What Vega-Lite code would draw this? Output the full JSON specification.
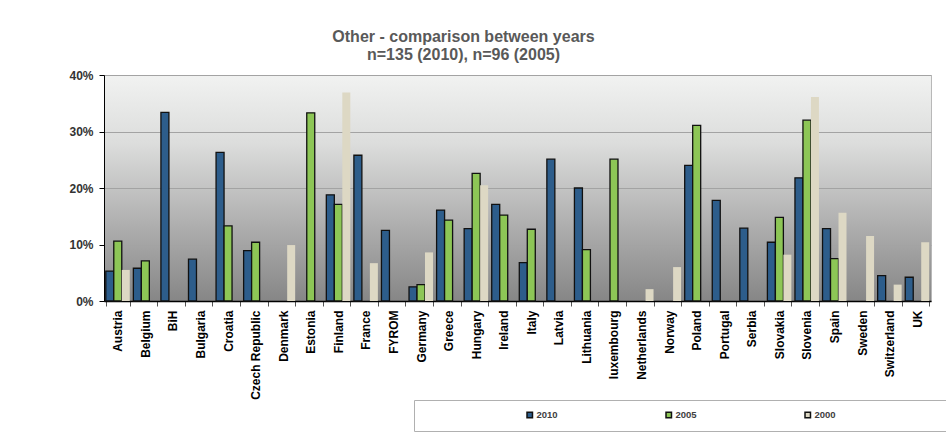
{
  "$schema": "https://vega.github.io/schema/vega-lite/v6.json",
  "autosize": "none",
  "width": 827,
  "height": 226,
  "padding": {"left": 104, "top": 75, "right": 15, "bottom": 133},
  "background": "white",
  "title": {
    "text": ["Other - comparison between years", "n=135 (2010), n=96 (2005)"],
    "fontSize": 16,
    "fontWeight": "bold",
    "color": "#595959",
    "anchor": "middle",
    "dx": -54,
    "offset": 6,
    "lineHeight": 18
  },
  "config": {
    "font": "Liberation Sans",
    "view": {
      "stroke": "#b8b8b8",
      "strokeWidth": 1,
      "fill": {
        "gradient": "linear", "x1": 0, "y1": 0, "x2": 0, "y2": 1,
        "stops": [
          {"offset": 0, "color": "#f1f2f1"},
          {"offset": 0.3, "color": "#dcdddc"},
          {"offset": 0.65, "color": "#b0b0b0"},
          {"offset": 1, "color": "#868686"}
        ]
      }
    }
  },
  "data": {
    "values": [
      {"country": "Austria", "year": "2010", "value": 5.3},
      {"country": "Austria", "year": "2005", "value": 10.6},
      {"country": "Austria", "year": "2000", "value": 5.5},
      {"country": "Belgium", "year": "2010", "value": 5.8},
      {"country": "Belgium", "year": "2005", "value": 7.1},
      {"country": "BiH", "year": "2010", "value": 33.4},
      {"country": "Bulgaria", "year": "2010", "value": 7.4},
      {"country": "Croatia", "year": "2010", "value": 26.3},
      {"country": "Croatia", "year": "2005", "value": 13.3},
      {"country": "Czech Republic", "year": "2010", "value": 8.9},
      {"country": "Czech Republic", "year": "2005", "value": 10.4},
      {"country": "Denmark", "year": "2000", "value": 9.9},
      {"country": "Estonia", "year": "2005", "value": 33.3},
      {"country": "Finland", "year": "2010", "value": 18.8},
      {"country": "Finland", "year": "2005", "value": 17.1},
      {"country": "Finland", "year": "2000", "value": 36.9},
      {"country": "France", "year": "2010", "value": 25.8},
      {"country": "France", "year": "2000", "value": 6.7},
      {"country": "FYROM", "year": "2010", "value": 12.5},
      {"country": "Germany", "year": "2010", "value": 2.5},
      {"country": "Germany", "year": "2005", "value": 2.9},
      {"country": "Germany", "year": "2000", "value": 8.6},
      {"country": "Greece", "year": "2010", "value": 16.1},
      {"country": "Greece", "year": "2005", "value": 14.3},
      {"country": "Hungary", "year": "2010", "value": 12.8},
      {"country": "Hungary", "year": "2005", "value": 22.6},
      {"country": "Hungary", "year": "2000", "value": 20.5},
      {"country": "Ireland", "year": "2010", "value": 17.1},
      {"country": "Ireland", "year": "2005", "value": 15.2},
      {"country": "Italy", "year": "2010", "value": 6.8},
      {"country": "Italy", "year": "2005", "value": 12.7},
      {"country": "Latvia", "year": "2010", "value": 25.1},
      {"country": "Lithuania", "year": "2010", "value": 20.0},
      {"country": "Lithuania", "year": "2005", "value": 9.1},
      {"country": "luxembourg", "year": "2005", "value": 25.1},
      {"country": "Netherlands", "year": "2000", "value": 2.1},
      {"country": "Norway", "year": "2000", "value": 6.0},
      {"country": "Poland", "year": "2010", "value": 24.0},
      {"country": "Poland", "year": "2005", "value": 31.1},
      {"country": "Portugal", "year": "2010", "value": 17.8},
      {"country": "Serbia", "year": "2010", "value": 12.9},
      {"country": "Slovakia", "year": "2010", "value": 10.4},
      {"country": "Slovakia", "year": "2005", "value": 14.8},
      {"country": "Slovakia", "year": "2000", "value": 8.2},
      {"country": "Slovenia", "year": "2010", "value": 21.8},
      {"country": "Slovenia", "year": "2005", "value": 32.0},
      {"country": "Slovenia", "year": "2000", "value": 36.1},
      {"country": "Spain", "year": "2010", "value": 12.8},
      {"country": "Spain", "year": "2005", "value": 7.5},
      {"country": "Spain", "year": "2000", "value": 15.6},
      {"country": "Sweden", "year": "2000", "value": 11.5},
      {"country": "Switzerland", "year": "2010", "value": 4.5},
      {"country": "Switzerland", "year": "2000", "value": 2.9},
      {"country": "UK", "year": "2010", "value": 4.2},
      {"country": "UK", "year": "2000", "value": 10.4}
    ]
  },
  "mark": {"type": "bar", "strokeWidth": 1.3},
  "encoding": {
    "x": {
      "field": "country",
      "type": "nominal",
      "scale": {
        "domain": ["Austria", "Belgium", "BiH", "Bulgaria", "Croatia", "Czech Republic", "Denmark", "Estonia", "Finland", "France", "FYROM", "Germany", "Greece", "Hungary", "Ireland", "Italy", "Latvia", "Lithuania", "luxembourg", "Netherlands", "Norway", "Poland", "Portugal", "Serbia", "Slovakia", "Slovenia", "Spain", "Sweden", "Switzerland", "UK"],
        "paddingInner": 0.13,
        "paddingOuter": 0.065
      },
      "axis": {
        "title": null,
        "labelAngle": -90,
        "labelFontSize": 12,
        "labelFontWeight": "bold",
        "labelColor": "#000000",
        "labelPadding": 4,
        "tickBand": "extent",
        "tickSize": 5,
        "tickColor": "#555555",
        "domainColor": "#000000",
        "domainWidth": 1.5
      }
    },
    "xOffset": {
      "field": "year",
      "type": "nominal",
      "scale": {"domain": ["2010", "2005", "2000"], "paddingInner": 0, "paddingOuter": 0}
    },
    "y": {
      "field": "value",
      "type": "quantitative",
      "scale": {"domain": [0, 40]},
      "axis": {
        "title": null,
        "values": [0, 10, 20, 30, 40],
        "labelExpr": "datum.value + '%'",
        "labelFontSize": 12,
        "labelFontWeight": "bold",
        "labelColor": "#333333",
        "labelPadding": 6,
        "tickSize": 5,
        "tickColor": "#000000",
        "domainColor": "#000000",
        "grid": true,
        "gridColor": "#a3a3a3",
        "gridWidth": 1
      }
    },
    "color": {
      "field": "year",
      "type": "nominal",
      "scale": {"domain": ["2010", "2005", "2000"], "range": ["#2d5d8b", "#8dc656", "#ddd8c4"]},
      "legend": {
        "orient": "none",
        "legendX": 310,
        "legendY": 325,
        "direction": "horizontal",
        "title": "\u00a0",
        "titleOrient": "left",
        "titlePadding": 101,
        "titleFontSize": 9,
        "padding": 10,
        "strokeColor": "#b0b0b0",
        "fillColor": "white",
        "symbolType": "square",
        "symbolSize": 30,
        "symbolStrokeWidth": 1.5,
        "labelFontSize": 9.5,
        "labelFontWeight": "bold",
        "labelColor": "#404040",
        "labelOffset": 2,
        "columnPadding": 105,
        "labelExpr": "datum.label == '2000' ? '2000\u2800\u2800\u2800\u2800\u2800\u2800\u2800\u2800\u2800\u2800\u2800\u2800\u2800\u2800\u2800' : datum.label",
        "labelLimit": 300,
        "encode": {
          "symbols": {
            "update": {
              "stroke": {"signal": "datum.label == '2000' ? 'transparent' : '#111111'"}
            }
          }
        }
      }
    },
    "stroke": {
      "condition": {"test": "datum.year === '2000'", "value": "transparent"},
      "value": "#111111"
    }
  }
}
